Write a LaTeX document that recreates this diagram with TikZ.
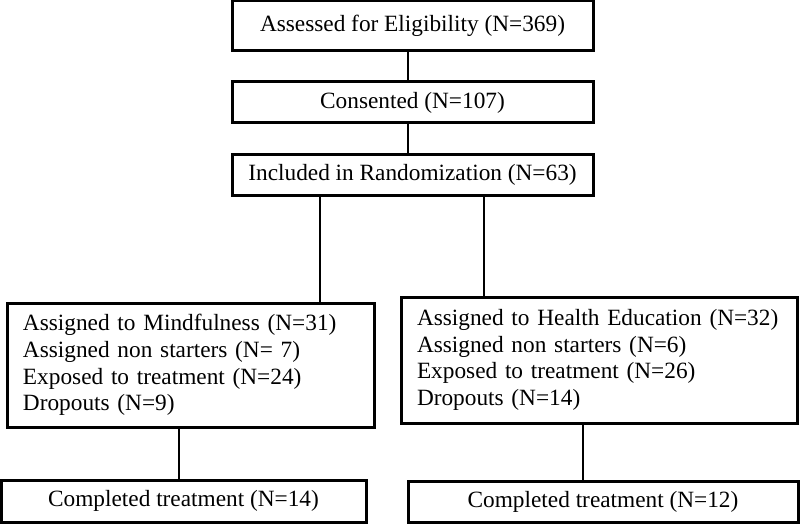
\documentclass[tikz,border=0pt]{standalone}
\usepackage{fontspec}
\setmainfont{Liberation Serif}
\begin{document}
\begin{tikzpicture}[x=1pt,y=-1pt,
  box/.style={draw=black, line width=3pt, rectangle, inner sep=0pt, font=\fontsize{23.3}{26.7}\selectfont},
  listbox/.style={box, align=left, inner xsep=16pt, inner ysep=0pt},
  thickline/.style={draw=black, line width=2.6pt},
  thinline/.style={draw=black, line width=1.4pt}]
\useasboundingbox[fill=white] (0,0) rectangle (800,524);
\node[box, minimum width=361pt, minimum height=50pt] (b1) at (412.5,26) {Assessed for Eligibility (N=369)};
\node[box, minimum width=361pt, minimum height=41pt] (b2) at (412.5,102.5) {Consented (N=107)};
\node[box, minimum width=361pt, minimum height=41pt] (b3) at (412.5,174.5) {Included in Randomization (N=63)};
\node[listbox, text width=335pt, minimum height=124pt] (lm) at (190.5,365) {Assigned to Mindfulness (N=31)\\Assigned non starters (N= 7)\\Exposed to treatment (N=24)\\Dropouts (N=9)};
\node[listbox, text width=364pt, minimum height=126pt] (rh) at (599,360) {Assigned to Health Education (N=32)\\Assigned non starters (N=6)\\Exposed to treatment (N=26)\\Dropouts (N=14)};
\node[box, minimum width=365pt, minimum height=42pt] (lc) at (183.5,501) {Completed treatment (N=14)};
\node[box, minimum width=390pt, minimum height=41pt] (rc) at (603,501.5) {Completed treatment (N=12)};
\coordinate (mx) at (408,0);
\coordinate (lx) at (320,0);
\coordinate (rx) at (484,0);
\coordinate (blx) at (179,0);
\coordinate (brx) at (583,0);
\draw[thickline] (b1.south -| mx) -- (b2.north -| mx);
\draw[thickline] (b2.south -| mx) -- (b3.north -| mx);
\draw[thinline] (b3.south -| lx) -- (lm.north -| lx);
\draw[thinline] (b3.south -| rx) -- (rh.north -| rx);
\draw[thinline] (lm.south -| blx) -- (lc.north -| blx);
\draw[thinline] (rh.south -| brx) -- (rc.north -| brx);
\end{tikzpicture}
\end{document}
